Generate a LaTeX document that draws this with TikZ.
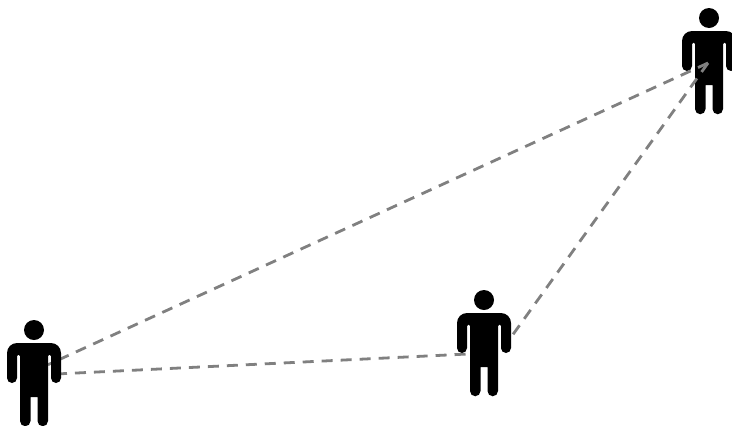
\documentclass[tikz,border=0pt]{standalone}
\usepackage{xcolor}
\definecolor{linkgrey}{HTML}{808080}
\tikzset{
  link/.style={draw=linkgrey, line width=1.4pt, dash pattern=on 5.5pt off 4pt},
  pics/person/.style={code={
    \fill (0,0) circle (10);
    \fill (-14,-91) -- (-14,-26) arc[start angle=0, end angle=180, radius=1.5]
      -- (-17,-48) arc[start angle=0, end angle=-180, radius=5]
      -- (-27,-23) arc[start angle=180, end angle=90, radius=10]
      -- (17,-13) arc[start angle=90, end angle=0, radius=10]
      -- (27,-48) arc[start angle=0, end angle=-180, radius=5]
      -- (17,-26) arc[start angle=0, end angle=180, radius=1.5]
      -- (14,-91) arc[start angle=0, end angle=-180, radius=5.25]
      -- (3.5,-67) -- (-3.5,-67)
      -- (-3.5,-91) arc[start angle=0, end angle=-180, radius=5.25] -- cycle;
  }}
}
\begin{document}
\begin{tikzpicture}[x=0.5pt, y=0.5pt]
  \useasboundingbox (0,0) rectangle (732,425);
  \clip (0,0) rectangle (732,425);
  % positions of the heads
  \coordinate (left) at (34,95);
  \coordinate (middle) at (484,125);
  \coordinate (right) at (709,407);
  % ends of the dashed links
  \coordinate (leftA) at (48,60.3);
  \coordinate (leftB) at (56,51);
  \coordinate (middleA) at (478,71.5);
  \coordinate (middleB) at (497.5,69);
  \coordinate (rightA) at (708,362);
  \pic at (right) {person};
  \draw[link] (rightA) -- (leftA);
  \draw[link] (leftB) -- (middleA);
  \draw[link] (rightA) -- (middleB);
  \pic at (left) {person};
  \pic at (middle) {person};
\end{tikzpicture}
\end{document}
